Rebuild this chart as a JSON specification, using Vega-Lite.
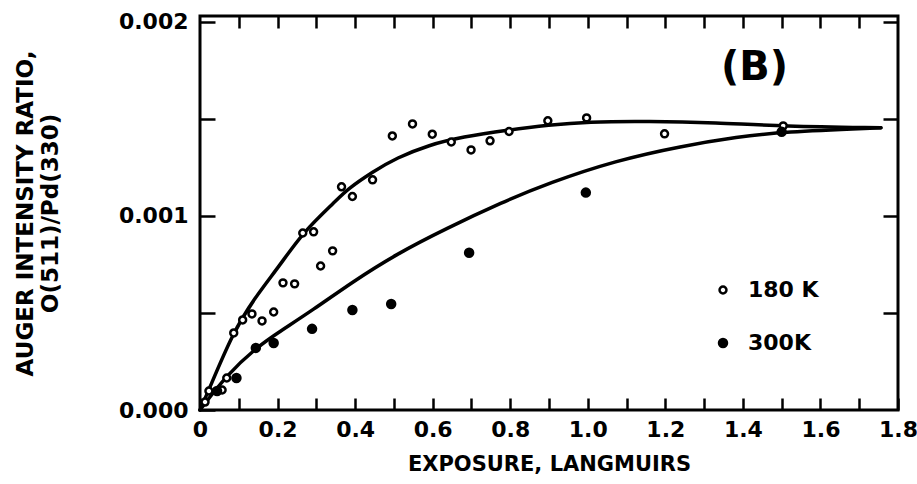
{
  "$schema": "https://vega.github.io/schema/vega-lite/v6.json",
  "width": 698,
  "height": 394,
  "autosize": "none",
  "padding": {"left": 200, "top": 16, "right": 19, "bottom": 74},
  "background": "white",
  "config": {
    "view": {"stroke": "black", "strokeWidth": 3},
    "font": "DejaVu Sans",
    "axis": {
      "domain": false,
      "grid": false,
      "tickColor": "black",
      "tickWidth": 2.5,
      "labelColor": "black",
      "titleColor": "black"
    }
  },
  "datasets": {
    "points": [
      {"exposure": 0.013, "ratio": 0.000041, "temp": "180 K"},
      {"exposure": 0.023, "ratio": 0.000098, "temp": "180 K"},
      {"exposure": 0.057, "ratio": 0.000103, "temp": "180 K"},
      {"exposure": 0.069, "ratio": 0.000165, "temp": "180 K"},
      {"exposure": 0.087, "ratio": 0.000397, "temp": "180 K"},
      {"exposure": 0.11, "ratio": 0.000464, "temp": "180 K"},
      {"exposure": 0.134, "ratio": 0.000495, "temp": "180 K"},
      {"exposure": 0.16, "ratio": 0.000459, "temp": "180 K"},
      {"exposure": 0.19, "ratio": 0.000505, "temp": "180 K"},
      {"exposure": 0.214, "ratio": 0.000655, "temp": "180 K"},
      {"exposure": 0.244, "ratio": 0.00065, "temp": "180 K"},
      {"exposure": 0.265, "ratio": 0.000912, "temp": "180 K"},
      {"exposure": 0.293, "ratio": 0.000918, "temp": "180 K"},
      {"exposure": 0.311, "ratio": 0.000742, "temp": "180 K"},
      {"exposure": 0.342, "ratio": 0.00082, "temp": "180 K"},
      {"exposure": 0.365, "ratio": 0.00115, "temp": "180 K"},
      {"exposure": 0.393, "ratio": 0.0011, "temp": "180 K"},
      {"exposure": 0.445, "ratio": 0.001186, "temp": "180 K"},
      {"exposure": 0.496, "ratio": 0.001412, "temp": "180 K"},
      {"exposure": 0.548, "ratio": 0.001474, "temp": "180 K"},
      {"exposure": 0.599, "ratio": 0.001421, "temp": "180 K"},
      {"exposure": 0.648, "ratio": 0.001381, "temp": "180 K"},
      {"exposure": 0.699, "ratio": 0.00134, "temp": "180 K"},
      {"exposure": 0.748, "ratio": 0.001387, "temp": "180 K"},
      {"exposure": 0.797, "ratio": 0.001435, "temp": "180 K"},
      {"exposure": 0.897, "ratio": 0.00149, "temp": "180 K"},
      {"exposure": 0.997, "ratio": 0.001505, "temp": "180 K"},
      {"exposure": 1.198, "ratio": 0.001423, "temp": "180 K"},
      {"exposure": 1.504, "ratio": 0.001464, "temp": "180 K"},
      {"exposure": 0.044, "ratio": 0.000098, "temp": "300K"},
      {"exposure": 0.094, "ratio": 0.000165, "temp": "300K"},
      {"exposure": 0.144, "ratio": 0.00032, "temp": "300K"},
      {"exposure": 0.19, "ratio": 0.000345, "temp": "300K"},
      {"exposure": 0.289, "ratio": 0.000418, "temp": "300K"},
      {"exposure": 0.393, "ratio": 0.000515, "temp": "300K"},
      {"exposure": 0.493, "ratio": 0.000546, "temp": "300K"},
      {"exposure": 0.694, "ratio": 0.00081, "temp": "300K"},
      {"exposure": 0.995, "ratio": 0.00112, "temp": "300K"},
      {"exposure": 1.5, "ratio": 0.001433, "temp": "300K"}
    ],
    "curves": [
      {"exposure": 0, "ratio": 0, "temp": "180 K"},
      {"exposure": 0.02, "ratio": 0.00009, "temp": "180 K"},
      {"exposure": 0.085, "ratio": 0.0004, "temp": "180 K"},
      {"exposure": 0.14, "ratio": 0.000575, "temp": "180 K"},
      {"exposure": 0.206, "ratio": 0.000745, "temp": "180 K"},
      {"exposure": 0.265, "ratio": 0.000915, "temp": "180 K"},
      {"exposure": 0.352, "ratio": 0.00108, "temp": "180 K"},
      {"exposure": 0.378, "ratio": 0.001134, "temp": "180 K"},
      {"exposure": 0.445, "ratio": 0.001227, "temp": "180 K"},
      {"exposure": 0.507, "ratio": 0.001299, "temp": "180 K"},
      {"exposure": 0.591, "ratio": 0.001366, "temp": "180 K"},
      {"exposure": 0.676, "ratio": 0.001407, "temp": "180 K"},
      {"exposure": 0.795, "ratio": 0.001443, "temp": "180 K"},
      {"exposure": 0.9, "ratio": 0.001469, "temp": "180 K"},
      {"exposure": 0.998, "ratio": 0.001485, "temp": "180 K"},
      {"exposure": 1.157, "ratio": 0.001488, "temp": "180 K"},
      {"exposure": 1.33, "ratio": 0.00148, "temp": "180 K"},
      {"exposure": 1.504, "ratio": 0.001462, "temp": "180 K"},
      {"exposure": 1.756, "ratio": 0.001454, "temp": "180 K"},
      {"exposure": 0, "ratio": 0, "temp": "300K"},
      {"exposure": 0.069, "ratio": 0.00018, "temp": "300K"},
      {"exposure": 0.147, "ratio": 0.000325, "temp": "300K"},
      {"exposure": 0.206, "ratio": 0.000405, "temp": "300K"},
      {"exposure": 0.291, "ratio": 0.000515, "temp": "300K"},
      {"exposure": 0.393, "ratio": 0.00066, "temp": "300K"},
      {"exposure": 0.507, "ratio": 0.000804, "temp": "300K"},
      {"exposure": 0.635, "ratio": 0.000935, "temp": "300K"},
      {"exposure": 0.779, "ratio": 0.00107, "temp": "300K"},
      {"exposure": 0.9, "ratio": 0.00117, "temp": "300K"},
      {"exposure": 1.072, "ratio": 0.001285, "temp": "300K"},
      {"exposure": 1.242, "ratio": 0.00136, "temp": "300K"},
      {"exposure": 1.388, "ratio": 0.001407, "temp": "300K"},
      {"exposure": 1.5, "ratio": 0.001433, "temp": "300K"},
      {"exposure": 1.756, "ratio": 0.001454, "temp": "300K"}
    ],
    "tag": [
      {"exposure": 1.43, "ratio": 0.00176, "label": "(B)"}
    ]
  },
  "layer": [
    {
      "data": {"name": "curves"},
      "mark": {"type": "line", "interpolate": "basis", "color": "black", "strokeWidth": 3.5, "strokeCap": "round"},
      "encoding": {
        "x": {
          "field": "exposure", "type": "quantitative",
          "scale": {"domain": [0, 1.8], "nice": false, "zero": false},
          "axis": {
            "orient": "bottom",
            "values": [0, 0.1, 0.2, 0.3, 0.4, 0.5, 0.6, 0.7, 0.8, 0.9, 1.0, 1.1, 1.2, 1.3, 1.4, 1.5, 1.6, 1.7, 1.8],
            "labelExpr": "round(datum.value * 10) % 2 == 1 ? '' : (datum.value == 0 ? '0' : format(datum.value, '.1f'))",
            "tickSize": -12,
            "labelPadding": 21,
            "labelFlush": false,
            "labelFont": "DejaVu Sans", "labelFontWeight": "bold", "labelFontSize": 22,
            "title": "EXPOSURE, LANGMUIRS",
            "titleFont": "DejaVu Sans", "titleFontWeight": "bold", "titleFontSize": 21,
            "titlePadding": 13
          }
        },
        "y": {
          "field": "ratio", "type": "quantitative",
          "scale": {"domain": [0, 0.00203], "nice": false, "zero": false},
          "axis": {
            "orient": "left",
            "values": [0, 0.0005, 0.001, 0.0015, 0.002],
            "labelExpr": "round(datum.value * 2000) % 2 == 1 ? '' : format(datum.value, '.3f')",
            "tickSize": -15,
            "labelPadding": 27,
            "labelFont": "DejaVu Sans", "labelFontWeight": "bold", "labelFontSize": 22,
            "title": ["AUGER INTENSITY RATIO,", "O(511)/Pd(330)"],
            "titleFont": "DejaVu Sans", "titleFontWeight": "bold", "titleFontSize": 23,
            "titleLineHeight": 25,
            "titlePadding": 56
          }
        },
        "detail": {"field": "temp"}
      }
    },
    {
      "data": {"name": "points"},
      "mark": {"type": "point", "filled": false, "stroke": "black", "strokeWidth": 2.5, "opacity": 1},
      "encoding": {
        "x": {"field": "exposure", "type": "quantitative", "axis": {"orient": "top", "values": [0.1, 0.2, 0.3, 0.4, 0.5, 0.6, 0.7, 0.8, 0.9, 1.0, 1.1, 1.2, 1.3, 1.4, 1.5, 1.6, 1.7], "labels": false, "tickSize": -12, "title": null}},
        "y": {"field": "ratio", "type": "quantitative", "axis": {"orient": "right", "values": [0.0005, 0.001, 0.0015, 0.002], "labels": false, "tickSize": -15, "title": null}},
        "fill": {
          "field": "temp", "type": "nominal",
          "scale": {"domain": ["180 K", "300K"], "range": ["white", "black"]},
          "legend": {
            "orient": "none", "legendX": 512, "legendY": 263,
            "title": null,
            "labelFont": "DejaVu Sans", "labelFontSize": 22, "labelFontWeight": "bold", "labelColor": "black",
            "symbolStrokeColor": "black", "symbolStrokeWidth": 2.5,
            "rowPadding": 31, "labelOffset": 14
          }
        },
        "size": {
          "field": "temp", "type": "nominal",
          "scale": {"domain": ["180 K", "300K"], "range": [48, 64]}
        }
      }
    },
    {
      "data": {"name": "tag"},
      "mark": {"type": "text", "font": "DejaVu Sans", "fontWeight": "bold", "fontSize": 40, "color": "black", "align": "center", "baseline": "middle"},
      "encoding": {
        "x": {"field": "exposure", "type": "quantitative", "axis": null},
        "y": {"field": "ratio", "type": "quantitative", "axis": null},
        "text": {"field": "label"}
      }
    }
  ],
  "resolve": {"axis": {"x": "independent", "y": "independent"}}
}
